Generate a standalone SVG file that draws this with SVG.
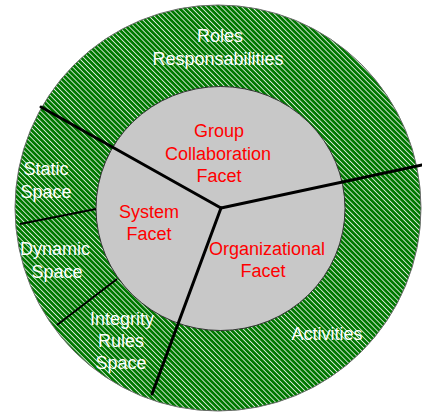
<svg xmlns="http://www.w3.org/2000/svg" width="422" height="412" viewBox="0 0 422 412">
<style>
.w{font-family:"Liberation Sans",Arial,sans-serif;font-size:18px;fill:#ffffff;text-anchor:middle}
.r{font-family:"Liberation Sans",Arial,sans-serif;font-size:18px;fill:#ff0000;text-anchor:middle}
.thick{stroke:#000;stroke-width:3;fill:none;stroke-linecap:round}
.thin{stroke:#000;stroke-width:2;fill:none}
</style>
<defs>
<pattern id="hatch" patternUnits="userSpaceOnUse" width="3.6" height="3.6" patternTransform="rotate(-45)">
<rect width="3.6" height="3.6" fill="#007800"/>
<rect x="0" y="0" width="0.9" height="3.6" fill="#d9ead9"/>
</pattern>
</defs>
<rect width="422" height="412" fill="#ffffff"/>
<g id="outer-ring">
<circle cx="218" cy="208" r="203" fill="url(#hatch)" stroke="#6a6a6a" stroke-width="1"/>
</g>
<g id="inner-circle">
<ellipse cx="220.5" cy="208.5" rx="124.5" ry="122" fill="#c8c8c8" stroke="#333" stroke-width="1"/>
</g>
<g id="connectors">
<line class="thick" x1="221" y1="208" x2="41" y2="107"/>
<line class="thick" x1="221" y1="208" x2="422" y2="165"/>
<line class="thick" x1="221" y1="208" x2="152" y2="394"/>
<line class="thin" x1="96" y1="209" x2="20" y2="224"/>
<line class="thin" x1="117" y1="279" x2="57" y2="325"/>
</g>
<g id="roles-responsabilities">
<text class="w" x="220" y="42">Roles</text>
<text class="w" x="218" y="65">Responsabilities</text>
</g>
<g id="group-collaboration-facet">
<text class="r" x="219" y="137">Group</text>
<text class="r" x="218" y="160">Collaboration</text>
<text class="r" x="219" y="182">Facet</text>
</g>
<g id="system-facet">
<text class="r" x="149" y="218">System</text>
<text class="r" x="149" y="240">Facet</text>
</g>
<g id="organizational-facet">
<text class="r" x="267" y="255">Organizational</text>
<text class="r" x="263" y="277">Facet</text>
</g>
<g id="static-space">
<text class="w" x="46" y="175">Static</text>
<text class="w" x="46" y="198">Space</text>
</g>
<g id="dynamic-space">
<text class="w" x="55" y="255">Dynamic</text>
<text class="w" x="57" y="278">Space</text>
</g>
<g id="integrity-rules-space">
<text class="w" x="122" y="325">Integrity</text>
<text class="w" x="121" y="347">Rules</text>
<text class="w" x="121" y="369">Space</text>
</g>
<g id="activities">
<text class="w" x="327" y="340">Activities</text>
</g>
</svg>
